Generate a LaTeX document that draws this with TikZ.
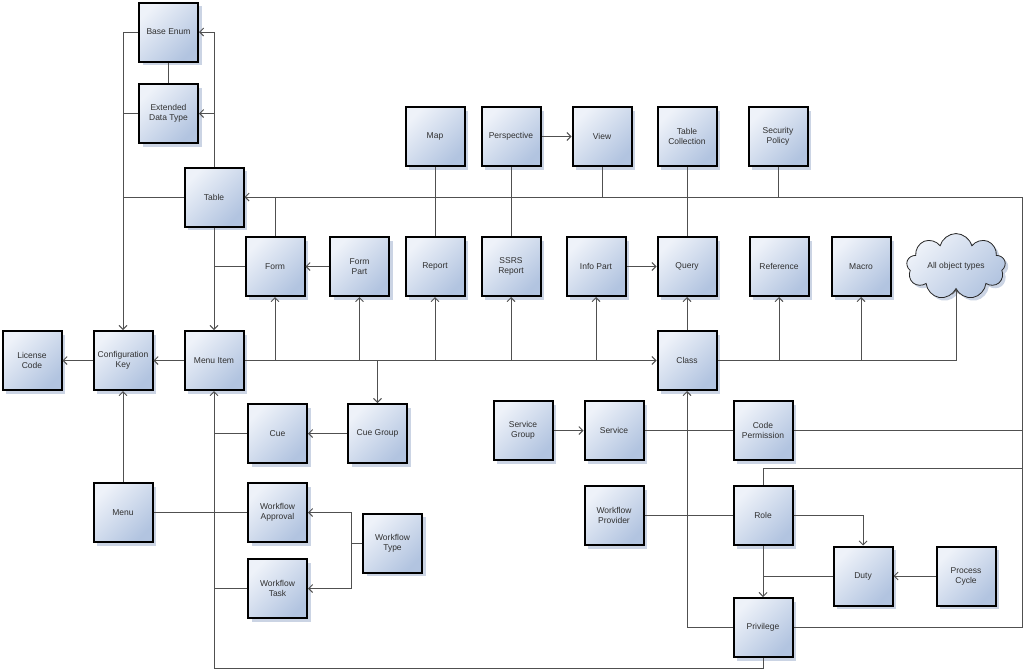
\documentclass[tikz,border=0pt]{standalone}
\usepackage{fontspec}
\setmainfont{Liberation Sans}
\usetikzlibrary{arrows.meta,shadows,shapes.symbols}

\definecolor{boxlight}{HTML}{EEF2F9}
\definecolor{boxdark}{HTML}{B2C4E0}
\definecolor{boxshadow}{HTML}{CBD4E4}
\definecolor{linkgray}{HTML}{505050}
\definecolor{textgray}{HTML}{303030}

\tikzset{
  obj/.style={draw=black, line width=2pt, minimum width=59pt, minimum height=59pt,
    inner sep=1pt, align=center, text=textgray, font=\fontsize{8.5}{10}\selectfont,
    top color=boxlight, bottom color=boxdark, shading angle=45,
    drop shadow={shadow xshift=3.5pt, shadow yshift=-3.5pt, fill=boxshadow, opacity=1}},
  cloudbox/.style={cloud, cloud puffs=9, aspect=1.7, draw=black!85, line width=0.8pt,
    minimum width=99pt, minimum height=60pt, inner sep=0pt, text=textgray,
    font=\fontsize{8.5}{10}\selectfont,
    top color=boxlight, bottom color=boxdark, shading angle=45,
    drop shadow={shadow xshift=3pt, shadow yshift=-3pt, fill=boxshadow, opacity=1}},
  link/.style={draw=linkgray, line width=0.9pt},
  arr/.style={link, -{Straight Barb[length=4pt,width=8pt]}},
}

\begin{document}
\begin{tikzpicture}[x=1pt,y=-1pt]
\useasboundingbox (0,0) rectangle (1024,670);

%draws the data type boxes
\node[obj] (baseenum) at (168.5,32) {Base Enum};
\node[obj] (edt) at (168.5,113.5) {Extended\\Data Type};
\node[obj] (table) at (214,197) {Table};

%draws the top row
\node[obj] (map) at (435,136.5) {Map};
\node[obj] (persp) at (511,136.5) {Perspective};
\node[obj] (view) at (602,136.5) {View};
\node[obj] (tablecoll) at (687,136.5) {Table\\Collection};
\node[obj] (secpolicy) at (778,136.5) {Security\\Policy};

%draws the middle row
\node[obj] (form) at (275,266.5) {Form};
\node[obj] (formpart) at (359.5,266.5) {Form\\Part};
\node[obj] (report) at (435,266.5) {Report};
\node[obj] (ssrs) at (511,266.5) {SSRS\\Report};
\node[obj] (infopart) at (596,266.5) {Info Part};
\node[obj] (query) at (687,266.5) {Query};
\node[obj] (reference) at (779,266.5) {Reference};
\node[obj] (macro) at (861,266.5) {Macro};
\node[cloudbox] (allobj) at (956,266.5) {All object types};

%draws the menu item row
\node[obj] (license) at (32,360.5) {License\\Code};
\node[obj] (configkey) at (123,360.5) {Configuration\\Key};
\node[obj] (menuitem) at (214,360.5) {Menu Item};
\node[obj] (class) at (687,360.5) {Class};

%draws the lower left boxes
\node[obj] (cue) at (277.5,433.5) {Cue};
\node[obj] (cuegroup) at (377.5,433.5) {Cue Group};
\node[obj] (menu) at (123,512.5) {Menu};
\node[obj] (wfapproval) at (277.5,512.5) {Workflow\\Approval};
\node[obj] (wftype) at (392.5,543) {Workflow\\Type};
\node[obj] (wftask) at (277.5,588.5) {Workflow\\Task};

%draws the security boxes
\node[obj] (servgroup) at (523,430.5) {Service\\Group};
\node[obj] (service) at (614,430.5) {Service};
\node[obj] (codeperm) at (763,430.5) {Code\\Permission};
\node[obj] (wfprovider) at (614,515.5) {Workflow\\Provider};
\node[obj] (role) at (763,515.5) {Role};
\node[obj] (duty) at (863,576) {Duty};
\node[obj] (proccycle) at (966,576) {Process\\Cycle};
\node[obj] (privilege) at (763,627.5) {Privilege};

%corners of the long lines
\coordinate (rightbus) at (1022,197);
\coordinate (rolebus) at (1022,468);
\coordinate (bottombus) at (214,668);
\coordinate (wfsplit) at (351,543);

%data types
\draw[link] (edt) -- (baseenum);
\draw[arr] (table.north) |- (baseenum.east);
\draw[arr] (table.north |- edt.east) -- (edt.east);
\draw[arr] (baseenum.west) -| (configkey.north);
\foreach \n in {edt,table}
    \draw[link] (\n.west) -- (\n.west -| configkey.north);
\draw[arr] (table) -- (menuitem);
\draw[link] (form.west) -- (form.west -| table.south);

%long line into the table
\draw[arr] (privilege.east) -| (rightbus) -- (table.east);
\draw[link] (codeperm.east) -- (codeperm.east -| rightbus);
\draw[link] (role.north) |- (rolebus);
\foreach \n in {form.north,view.south,secpolicy.south}
    \draw[link] (\n) -- (\n |- table.east);

%top row
\draw[link] (map) -- (report);
\draw[link] (persp) -- (ssrs);
\draw[arr] (persp) -- (view);
\draw[link] (tablecoll) -- (query);

%middle row
\draw[arr] (formpart) -- (form);
\draw[arr] (infopart) -- (query);
\draw[arr] (class) -- (query);
\draw[arr] (menuitem) -- (class);
\foreach \n in {form,formpart,report,ssrs,infopart}
    \draw[arr] (\n.south |- menuitem.east) -- (\n.south);
\draw[arr] (cuegroup.north |- menuitem.east) -- (cuegroup.north);
\draw[arr] (class.east) -| (allobj.south);
\foreach \n in {reference,macro}
    \draw[arr] (\n.south |- class.east) -- (\n.south);

%menu item and configuration key
\draw[arr] (menuitem) -- (configkey);
\draw[arr] (configkey) -- (license);
\draw[arr] (menu) -- (configkey);
\draw[link] (menu) -- (wfapproval);

%lower left
\draw[arr] (cuegroup) -- (cue);
\draw[arr] (privilege.south) |- (bottombus) -- (menuitem.south);
\foreach \n in {cue,wftask}
    \draw[link] (\n.west) -- (\n.west -| menuitem.south);
\draw[link] (wftype.west) -- (wfsplit);
\foreach \n in {wfapproval,wftask}
    \draw[arr] (wfsplit) |- (\n.east);

%security
\draw[arr] (servgroup) -- (service);
\draw[link] (service) -- (codeperm);
\draw[link] (wfprovider) -- (role);
\draw[arr] (role.east) -| (duty.north);
\draw[arr] (role) -- (privilege);
\draw[link] (duty.west) -- (duty.west -| role.south);
\draw[arr] (proccycle) -- (duty);
\draw[arr] (privilege.west) -| (class.south);

\end{tikzpicture}
\end{document}
